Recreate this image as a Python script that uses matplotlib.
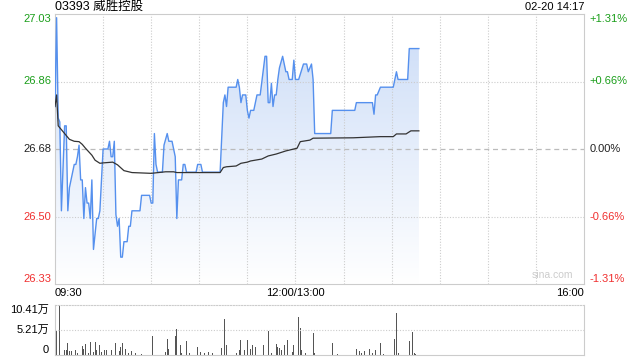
import numpy as np
import matplotlib
matplotlib.use("Agg")
import matplotlib.pyplot as plt
from matplotlib.colors import LinearSegmentedColormap
import matplotlib.transforms as mtrans

plt.rcParams['font.family'] = ['Liberation Sans', 'Noto Sans CJK SC', 'DejaVu Sans']

# ---- datos ----
title = '03393 威胜控股'
stamp = '02-20 14:17'
prev_close = 26.68
pct = 1.31
price_txt = ['26.33', '26.50', '26.68', '26.86', '27.03']
pct_txt = ['-1.31%', '-0.66%', '0.00%', '+0.66%', '+1.31%']
x_txt = ['09:30', '12:00/13:00', '16:00']
vol_txt = ['0', '5.21万', '10.41万']

# minutos desde 09:30 (sin pausa de mediodía), precio
px_min = [0, 1, 2, 3, 4, 6, 7, 8, 9, 10, 12, 13, 14, 15, 16, 17, 18, 19, 20, 21,
          22, 23, 24, 26, 27, 28, 30, 33, 34, 35, 36, 37, 38, 39, 40, 41, 42, 43, 45, 46,
          47, 48, 53, 54, 59, 60, 61, 62, 63, 64, 67, 68, 70, 71, 73, 74, 75, 76, 77, 79,
          80, 81, 82, 88, 89, 91, 92, 103, 105, 106, 107, 108, 113, 114, 115, 116, 117, 119, 120, 121,
          122, 124, 126, 128, 131, 132, 133, 134, 135, 136, 137, 138, 139, 140, 142, 143, 144, 145, 146, 148,
          149, 150, 152, 155, 157, 158, 160, 161, 162, 172, 173, 187, 188, 198, 199, 200, 201, 203, 211, 213,
          214, 220, 221, 227]
px_val = [26.79, 27.02, 26.76, 26.75, 26.52, 26.74, 26.74, 26.52, 26.58, 26.60, 26.64, 26.64, 26.66, 26.69, 26.60, 26.60, 26.50, 26.58, 26.54, 26.54,
          26.50, 26.60, 26.42, 26.50, 26.50, 26.52, 26.68, 26.68, 26.70, 26.66, 26.66, 26.70, 26.51, 26.48, 26.50, 26.40, 26.40, 26.44, 26.44, 26.48,
          26.48, 26.52, 26.52, 26.56, 26.56, 26.54, 26.54, 26.72, 26.64, 26.62, 26.62, 26.69, 26.72, 26.70, 26.70, 26.68, 26.66, 26.50, 26.60, 26.60,
          26.64, 26.64, 26.62, 26.62, 26.64, 26.64, 26.62, 26.62, 26.80, 26.82, 26.79, 26.84, 26.84, 26.86, 26.84, 26.80, 26.82, 26.82, 26.78, 26.76,
          26.78, 26.78, 26.82, 26.82, 26.92, 26.92, 26.80, 26.80, 26.85, 26.79, 26.82, 26.82, 26.86, 26.89, 26.92, 26.90, 26.88, 26.88, 26.86, 26.86,
          26.91, 26.86, 26.86, 26.90, 26.90, 26.88, 26.90, 26.86, 26.72, 26.72, 26.78, 26.78, 26.80, 26.80, 26.77, 26.82, 26.82, 26.84, 26.84, 26.88,
          26.86, 26.86, 26.94, 26.94]

avg_min = [0, 1, 2, 4, 7, 9, 12, 15, 17, 19, 21, 23, 25, 28, 30, 36, 39, 43, 48, 60,
           69, 74, 76, 103, 105, 107, 113, 116, 120, 122, 129, 133, 138, 144, 151, 153, 159, 161, 186, 203,
           211, 213, 219, 222, 227]
avg_val = [26.79, 26.82, 26.74, 26.73, 26.715, 26.705, 26.70, 26.699, 26.692, 26.682, 26.673, 26.664, 26.651, 26.643, 26.644, 26.646, 26.639, 26.624, 26.619, 26.617,
           26.621, 26.621, 26.619, 26.619, 26.632, 26.634, 26.636, 26.643, 26.646, 26.649, 26.654, 26.662, 26.667, 26.675, 26.682, 26.699, 26.703, 26.708, 26.709, 26.712,
           26.712, 26.719, 26.719, 26.727, 26.727]

# volumen (万)
vol_min = [0, 1, 3, 5, 6, 7, 8, 9, 10, 13, 14, 17, 18, 19, 21, 22, 24, 25, 26, 28,
           29, 31, 32, 35, 38, 40, 41, 42, 44, 46, 48, 50, 54, 61, 68, 69, 70, 71, 75, 76,
           78, 79, 82, 84, 89, 91, 93, 96, 98, 104, 106, 107, 113, 115, 116, 118, 120, 122, 123, 125,
           126, 130, 133, 135, 138, 139, 140, 141, 143, 145, 148, 149, 152, 153, 154, 156, 161, 162, 173, 176,
           188, 190, 191, 193, 196, 198, 200, 203, 205, 212, 213, 214, 221, 223, 224, 225]
vol_val = [6.2, 5.1, 10.41, 2.5, 1.0, 1.0, 2.5, 0.8, 0.8, 1.0, 0.5, 1.8, 1.2, 2.3, 0.5, 2.7, 0.7, 2.7, 1.0, 2.0,
           0.7, 1.0, 1.0, 1.0, 2.5, 0.9, 1.7, 2.5, 1.2, 0.5, 0.8, 0.5, 0.3, 3.9, 0.5, 0.7, 3.3, 1.2, 3.9, 5.5,
           2.0, 0.5, 2.9, 0.5, 1.7, 0.7, 0.5, 0.7, 0.5, 1.4, 7.5, 2.0, 0.5, 1.0, 3.2, 1.0, 3.2, 1.2, 2.0, 1.7,
           1.7, 2.0, 4.9, 0.5, 2.3, 1.7, 1.4, 1.0, 2.0, 3.2, 0.7, 2.0, 8.0, 5.7, 1.0, 0.5, 4.5, 0.5, 2.5, 0.3,
           1.2, 0.9, 0.5, 0.8, 1.3, 0.5, 1.0, 2.5, 0.3, 3.3, 8.8, 0.5, 2.9, 4.7, 0.5, 0.3]
vol_max = 10.41

GREEN = '#1a9e1a'
RED = '#f03030'
GRID = '#cccccc'

ymin = prev_close * (1 - pct / 100)
ymax = prev_close * (1 + pct / 100)
levels = np.linspace(ymin, ymax, 5)
lvl_col = [RED, RED, '#222222', GREEN, GREEN]

fig = plt.figure(figsize=(6.4, 3.6), dpi=100)
ax = fig.add_axes([55/640, 76/360, 529/640, 270/360])
axv = fig.add_axes([55/640, 5/360, 529/640, 50/360])

# ---- precio ----
poly = ax.fill_between(px_min, px_val, ymin, color='none', lw=0)
cmap = LinearSegmentedColormap.from_list('g', ['#ffffff', '#cbdcf7'])
grad = np.linspace(1, 0, 256).reshape(-1, 1)
im = ax.imshow(grad, extent=[0, 330, ymin, ymax], aspect='auto', cmap=cmap,
               origin='upper', zorder=1)
im.set_clip_path(poly.get_paths()[0], transform=ax.transData)
ax.plot(px_min, px_val, color='#5590ee', lw=1.0, zorder=3)
ax.plot(avg_min, avg_val, color='#333333', lw=0.9, zorder=3)

# rejilla por encima del relleno
for m in range(30, 330, 30):
    ax.axvline(m, color=GRID, ls=(0, (1, 1.5)), lw=0.8, zorder=2)
for i, v in enumerate(levels[1:-1]):
    if i == 1:
        ax.axhline(v, color='#bbbbbb', ls=(0, (4, 3)), lw=0.9, zorder=2)
    else:
        ax.axhline(v, color=GRID, ls=(0, (1, 1.5)), lw=0.8, zorder=2)

ax.set_xlim(0, 330)
ax.set_ylim(ymin, ymax)
ax.set_xticks([])
ax.set_yticks([])
for s in ax.spines.values():
    s.set_color(GRID)

tr = mtrans.blended_transform_factory(ax.transAxes, ax.transData)
for i, v in enumerate(levels):
    va = 'bottom' if i == 0 else ('top' if i == 4 else 'center')
    ax.text(-0.007, v, price_txt[i], transform=tr, ha='right', va=va,
            color=lvl_col[i], fontsize=8)
    ax.text(1.011, v, pct_txt[i], transform=tr, ha='left', va=va,
            color=lvl_col[i], fontsize=8)

ax.text(0, -0.033, x_txt[0], transform=ax.transAxes, ha='left', va='center', fontsize=8)
ax.text(150/330, -0.033, x_txt[1], transform=ax.transAxes, ha='center', va='center', fontsize=8)
ax.text(1, -0.033, x_txt[2], transform=ax.transAxes, ha='right', va='center', fontsize=8)
ax.text(0.98, 0.015, 'sina.com', transform=ax.transAxes, ha='right', va='bottom',
        color='#cccccc', fontsize=7.5)

fig.text(55/640, 1 - 7/360, title, ha='left', va='center', fontsize=9)
fig.text(584/640, 1 - 7/360, stamp, ha='right', va='center', fontsize=8)

# ---- volumen ----
axv.bar(vol_min, vol_val, width=0.6, color='#555555', align='center')
axv.set_xlim(0, 330)
axv.set_ylim(0, vol_max)
axv.set_xticks([])
axv.set_yticks([])
axv.axhline(vol_max / 2, color=GRID, ls=(0, (1, 1.5)), lw=0.8)
for s in axv.spines.values():
    s.set_color(GRID)
axv.spines['top'].set_linestyle((0, (1, 1.5)))

trv = mtrans.blended_transform_factory(axv.transAxes, axv.transData)
axv.text(-0.011, vol_max, vol_txt[2], transform=trv, ha='right', va='top', fontsize=8)
axv.text(-0.011, vol_max / 2, vol_txt[1], transform=trv, ha='right', va='center', fontsize=8)
axv.text(-0.011, 0, vol_txt[0], transform=trv, ha='right', va='bottom', fontsize=8)

fig.savefig('out.png', dpi=100)
